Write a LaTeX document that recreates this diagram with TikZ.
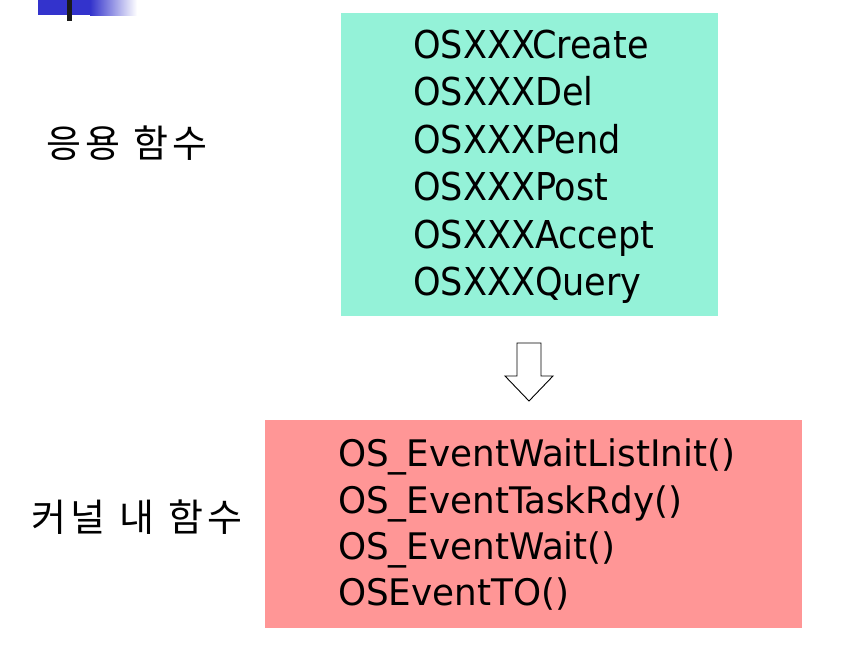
\documentclass[tikz,border=0pt]{standalone}
\usepackage{fontspec}
\newfontfamily\codefont[FakeStretch=1.015]{DejaVu Sans Condensed}
\newfontfamily\kerncodefont[FakeStretch=1.085]{DejaVu Sans Condensed}
\newfontfamily\krfont{Noto Sans CJK KR}
\definecolor{appbox}{RGB}{148,242,216}
\definecolor{kernbox}{RGB}{255,150,150}
\definecolor{barblue}{RGB}{51,51,204}
\definecolor{bardark}{RGB}{26,26,26}
\newcommand{\sylgap}{\hspace{4pt}}
\newcommand{\wordgap}{\hspace{14pt}}
\tikzset{
  apptext/.style={anchor=base west, inner sep=0pt, font=\codefont\fontsize{38.4}{46}\selectfont},
  kerntext/.style={anchor=base west, inner sep=0pt, font=\kerncodefont\fontsize{36.6}{44}\selectfont},
  label/.style={inner sep=0pt, font=\krfont\fontsize{38}{42}\selectfont},
  blockarrow/.style={draw=black, line width=0.9pt, fill=white, line join=miter}
}
\begin{document}
\begin{tikzpicture}[x=1pt,y=-1pt]
\useasboundingbox (0,0) rectangle (852,656);
% title bar ornament
\fill[barblue] (38,0) rectangle (90,15);
\shade[left color=barblue, right color=white] (90,0) rectangle (137,15);
\fill[bardark] (67,0) rectangle (72,21);
% application-level functions
\node[fill=appbox, inner sep=0pt, minimum width=377pt, minimum height=303pt, anchor=north west] (app) at (341,13) {};
\node[apptext] (a1) at (413,58) {OSXXXCreate};
\node[apptext] (a2) at (413,105.5) {OSXXXDel};
\node[apptext] (a3) at (413,153) {OSXXXPend};
\node[apptext] (a4) at (413,200.5) {OSXXXPost};
\node[apptext] (a5) at (413,248) {OSXXXAccept};
\node[apptext] (a6) at (413,295.5) {OSXXXQuery};
\node[label] (applbl) at (127,143) {응\sylgap 용\wordgap 함\sylgap 수};
% hollow down arrow
\draw[blockarrow] (517,343) -- (541,343) -- (541,376) -- (553,376) -- (529,401) -- (505,376) -- (517,376) -- cycle;
% kernel-internal functions
\node[fill=kernbox, inner sep=0pt, minimum width=537pt, minimum height=208pt, anchor=north west] (kern) at (265,420) {};
\node[kerntext] (k1) at (338,466.5) {OS\_EventWaitListInit()};
\node[kerntext] (k2) at (338,513) {OS\_EventTaskRdy()};
\node[kerntext] (k3) at (338,559.5) {OS\_EventWait()};
\node[kerntext] (k4) at (338,605.5) {OSEventTO()};
\node[label] (kernlbl) at (137,517) {커\sylgap 널\wordgap 내\wordgap 함\sylgap 수};
\end{tikzpicture}
\end{document}
